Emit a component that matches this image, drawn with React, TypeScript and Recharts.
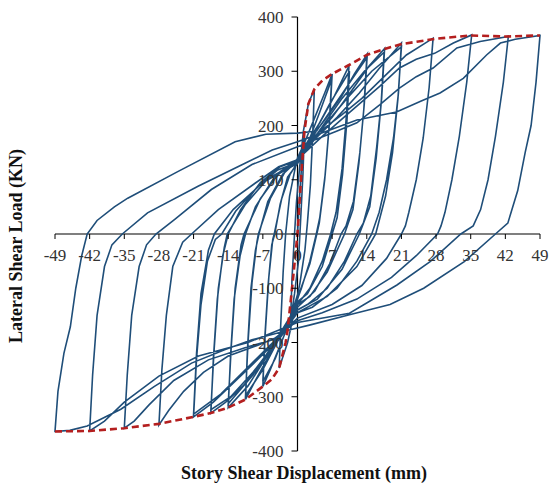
import { LineChart, Line, XAxis, YAxis, ReferenceLine } from "recharts";

// story shear displacement (mm) / lateral shear load (kN)
const xTicks = [-49, -42, -35, -28, -21, -14, -7, 0, 7, 14, 21, 28, 35, 42, 49];
const yTicks = [-400, -300, -200, -100, 0, 100, 200, 300, 400];

type Pt = [number, number];

const cycle1: Pt[] = [[0, 0], [0.5, 80], [1, 150], [1.4, 190], [1.1, 110], [0.6, 20], [0.2, -50], [-0.6, -110], [-1.4, -160], [-1.1, -80], [-0.6, 0], [-0.2, 60]];
const cycle2: Pt[] = [[0.4, 120], [1.2, 190], [2.2, 240], [3.4, 267], [3.1, 190], [2.6, 90], [2, 20], [1.5, -30], [0.5, -90], [-0.8, -150], [-2, -200], [-3.7, -247], [-3.4, -170], [-2.9, -70], [-2.4, 0], [-1.6, 70], [-0.5, 120], [0, 140]];
const cycle3: Pt[] = [[1.5, 170], [3.5, 215], [5.5, 260], [7, 295], [6.5, 210], [5.6, 110], [4.5, 30], [3.8, 0], [2.5, -50], [0.8, -100], [0, -120], [-1.5, -160], [-3.5, -205], [-5.5, -250], [-7, -281], [-6.6, -190], [-5.9, -90], [-5.2, -20], [-4.6, 0], [-3.5, 55], [-2, 105], [0, 130]];
const cycle3b: Pt[] = [[2, 165], [4.5, 225], [6.9, 285], [6.4, 200], [5.5, 100], [4.4, 20], [3.9, 0], [2.5, -55], [0.5, -105], [0, -112], [-2, -170], [-4.5, -230], [-7, -272], [-6.5, -180], [-5.8, -80], [-5, -10], [-4.7, 0], [-3.2, 65], [-1.5, 110], [0, 132]];
const cycle4: Pt[] = [[2, 170], [4.5, 205], [7.5, 255], [10.4, 310], [9.9, 220], [9, 120], [7.8, 40], [6.7, 0], [5, -50], [2.5, -100], [0, -130], [-2.5, -170], [-5.5, -220], [-8.5, -270], [-10.5, -305], [-10.1, -210], [-9.4, -100], [-8.5, -30], [-7.8, 0], [-6, 60], [-3, 110], [0, 135]];
const cycle4b: Pt[] = [[3, 180], [6.5, 240], [10.5, 300], [10, 210], [9.1, 110], [8, 30], [7, 0], [5, -60], [2, -110], [0, -125], [-3, -180], [-7, -250], [-10.5, -298], [-10, -200], [-9.2, -90], [-8.2, -15], [-7.9, 0], [-5.5, 65], [-2.5, 115], [0, 136]];
const cycle5: Pt[] = [[2.5, 175], [5.5, 210], [9, 255], [11.5, 295], [14.1, 332], [13.5, 240], [12.6, 150], [11.3, 60], [9.8, 15], [8.8, 0], [6.5, -55], [3.5, -105], [0, -135], [-3, -180], [-6.5, -230], [-10, -280], [-14, -320], [-13.5, -220], [-12.8, -120], [-11.6, -40], [-10.5, 0], [-8.5, 50], [-5, 100], [-2, 125], [0, 138]];
const cycle5b: Pt[] = [[3.5, 185], [8, 245], [11, 285], [14, 325], [13.4, 230], [12.4, 130], [11.2, 45], [9.5, 0], [6, -70], [2.5, -115], [0, -130], [-4, -190], [-9, -260], [-14, -313], [-13.4, -210], [-12.6, -100], [-11.4, -20], [-10.8, 0], [-7.5, 65], [-3.5, 115], [0, 136]];
const cycle6: Pt[] = [[3, 175], [7, 215], [11, 265], [14.5, 310], [17.6, 342], [17, 250], [16, 160], [14.8, 70], [13.3, 20], [12, 0], [9.5, -50], [6, -100], [2, -130], [0, -140], [-3, -185], [-7, -235], [-11, -280], [-14.5, -310], [-17.5, -330], [-17, -230], [-16.2, -120], [-15.1, -40], [-14, 0], [-11.5, 45], [-7.5, 95], [-3.5, 124], [0, 136]];
const cycle6b: Pt[] = [[4, 185], [9, 250], [13.5, 300], [17.5, 335], [16.9, 240], [15.9, 140], [14.6, 50], [12.5, 0], [9, -65], [4, -120], [0, -140], [-4, -195], [-9, -255], [-13.5, -300], [-17.5, -324], [-16.9, -220], [-16, -100], [-14.8, -25], [-14.2, 0], [-10.5, 55], [-6, 102], [0, 132]];
const cycle7: Pt[] = [[3.5, 175], [8, 215], [12.5, 260], [16.5, 305], [21, 352], [20.4, 260], [19.4, 177], [18, 100], [16.5, 40], [15, 0], [12, -50], [8, -100], [3, -135], [0, -145], [-4, -195], [-9, -240], [-13, -275], [-17, -310], [-21, -337], [-20.4, -230], [-19.5, -130], [-18.2, -50], [-16.6, -10], [-15.3, 0], [-12.5, 42], [-8, 88], [-4, 118], [0, 132]];
const cycle7b: Pt[] = [[4.5, 190], [10, 250], [15, 300], [21, 345], [20.3, 250], [19.2, 150], [17.8, 70], [15.8, 0], [12, -60], [6, -115], [0, -145], [-5, -200], [-10.5, -250], [-15.5, -295], [-21, -332], [-20.4, -220], [-19.5, -110], [-18, -30], [-16.8, 0], [-13, 45], [-7, 95], [0, 130]];
const cycle8: Pt[] = [[4, 185], [9, 220], [13, 250], [17.5, 290], [22, 330], [27.4, 361], [26.6, 270], [25.4, 177], [24, 100], [22.5, 40], [21.8, 15], [21, 0], [18, -45], [13, -95], [7, -130], [0, -155], [-4, -190], [-8, -205], [-14, -225], [-19, -255], [-23, -290], [-26, -325], [-28, -352], [-27.4, -250], [-26.5, -150], [-25.2, -60], [-23.2, -15], [-21.4, 0], [-16, 45], [-8.5, 94], [-3.8, 124], [0, 137]];
const cycle9: Pt[] = [[5, 180], [10, 220], [16.6, 272], [20.6, 306], [24, 322], [27.7, 333], [31.5, 352], [35.2, 367], [34.2, 280], [32.7, 180], [31.2, 100], [29.8, 40], [29, 15], [28.3, 0], [24, -40], [19, -80], [12, -120], [5, -145], [0, -160], [-5, -195], [-10, -208], [-18, -232], [-25, -270], [-30, -315], [-33, -345], [-35, -358], [-34.4, -260], [-33.5, -150], [-32, -60], [-30.5, -20], [-28.6, 0], [-24.8, 27], [-17.4, 82], [-9.2, 128], [0, 161]];
const cycle10: Pt[] = [[8, 190], [12, 205], [16.6, 238], [20.6, 269], [24, 290], [27.4, 306], [32.2, 343], [36.9, 355], [42.6, 364], [41.6, 280], [40, 180], [38.5, 100], [37, 45], [35.5, 15], [33, 0], [26.8, -51], [20.1, -94], [10.5, -146], [0, -163], [-10, -200], [-20, -225], [-28, -262], [-35, -310], [-39, -345], [-42, -363], [-41.4, -260], [-40.5, -150], [-39, -60], [-37.5, -20], [-35.4, 0], [-30.3, 39], [-20.1, 88], [-10.5, 131], [-5.1, 155], [0, 170]];
const cycle11: Pt[] = [[6, 190], [12, 210], [20, 225], [25, 245], [28.8, 260], [33.5, 287], [38.2, 330], [41, 352], [44, 359], [49, 366], [48.2, 280], [47.2, 200], [46, 150], [44.5, 80], [42.5, 20], [40, 0], [33.7, -51], [25.5, -100], [18.7, -130], [10.5, -149], [2.4, -168], [-1.7, -177], [-9.2, -195], [-14.6, -213], [-21.4, -238], [-28.9, -281], [-35.7, -323], [-42.5, -354], [-46, -362], [-49, -364], [-48.4, -290], [-47.2, -220], [-45.9, -171], [-44.8, -100], [-43.6, -40], [-42.5, 0], [-40.5, 25], [-37, 50], [-34.3, 66], [-24.2, 115], [-12.6, 170], [-6.4, 184], [0, 186], [4, 190]];

const envelopeNeg: Pt[] = [[-49, -364], [-42, -363], [-35, -358], [-28, -350], [-21, -337], [-17.5, -330], [-14, -320], [-10.5, -305], [-7, -281], [-5.2, -268], [-3.7, -247], [-2.4, -200], [-2, -177], [-1.1, -100]];
const envelopePos: Pt[] = [[0, 0], [0.7, 100], [1.4, 190], [2.2, 240], [3.4, 267], [5, 283], [7, 295], [10.5, 312], [14, 330], [17.6, 341], [21, 350], [28, 360], [35, 366], [42, 364], [49, 366]];

const toRows = (pts: Pt[]) => pts.map(([x, y]) => ({ x, y }));

const hysteresis = toRows([
  ...cycle1, ...cycle2, ...cycle3, ...cycle3b, ...cycle4, ...cycle4b,
  ...cycle5, ...cycle5b, ...cycle6, ...cycle6b, ...cycle7, ...cycle7b,
  ...cycle8, ...cycle9, ...cycle10, ...cycle11,
]);
const envelope = toRows([...envelopeNeg, ...envelopePos]);

const W = 552;
const H = 491;
const margin = { top: 17, right: 12, bottom: 39, left: 54 };
const plotLeft = margin.left + 1;
const plotBottom = H - margin.bottom - 1;
const zeroX = plotLeft + (W - margin.right - plotLeft) / 2;
const zeroY = margin.top + (plotBottom - margin.top) / 2;
const font = "'Liberation Serif', 'Times New Roman', serif";

const renderXTick = (props: any) => {
  const { x, payload } = props;
  return (
    <g>
      <line x1={x} x2={x} y1={zeroY} y2={zeroY + 5} stroke="#000" />
      <text x={x} y={zeroY + 27} textAnchor="middle" fontSize={17} fontFamily={font} fill="#333">
        {payload.value}
      </text>
    </g>
  );
};

const renderYTick = (props: any) => {
  const { y, payload } = props;
  return (
    <g>
      <line x1={zeroX - 6} x2={zeroX} y1={y} y2={y} stroke="#000" />
      <text x={zeroX - 14} y={y + 6} textAnchor="end" fontSize={17} fontFamily={font} fill="#333">
        {payload.value}
      </text>
    </g>
  );
};

export default function App() {
  return (
    <div style={{ position: "fixed", left: 0, top: 0, width: W, height: H, background: "#fff" }}>
      <LineChart width={W} height={H} margin={margin}>
        <XAxis
          type="number"
          dataKey="x"
          domain={[-49, 49]}
          ticks={xTicks}
          height={1}
          axisLine={false}
          tickLine={false}
          tick={renderXTick}
          interval={0}
        />
        <YAxis
          type="number"
          dataKey="y"
          domain={[-400, 400]}
          ticks={yTicks}
          width={1}
          axisLine={false}
          tickLine={false}
          tick={renderYTick}
          interval={0}
        />
        <ReferenceLine y={0} stroke="#000" strokeWidth={1.2} />
        <ReferenceLine x={0} stroke="#000" strokeWidth={1.2} />
        <Line
          data={hysteresis}
          dataKey="y"
          type="linear"
          stroke="#1f4e79"
          strokeWidth={1.6}
          dot={false}
          isAnimationActive={false}
        />
        <Line
          data={envelope}
          dataKey="y"
          type="linear"
          stroke="#b41f1f"
          strokeWidth={2.6}
          strokeDasharray="7 4"
          dot={false}
          isAnimationActive={false}
        />
      </LineChart>
      <svg width={W} height={H} style={{ position: "absolute", left: 0, top: 0, pointerEvents: "none" }}>
        <text x={304} y={479} textAnchor="middle" fontSize={18} fontWeight="bold" fontFamily={font} fill="#111">
          Story Shear Displacement (mm)
        </text>
        <text transform="translate(22,246) rotate(-90)" textAnchor="middle" fontSize={18} fontWeight="bold" fontFamily={font} fill="#111">
          Lateral Shear Load (KN)
        </text>
      </svg>
    </div>
  );
}
